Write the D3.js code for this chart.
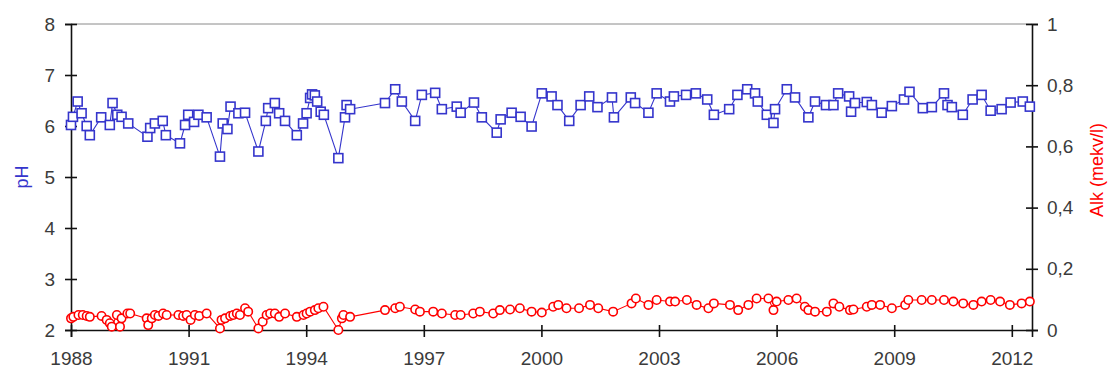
<!DOCTYPE html>
<html>
<head>
<meta charset="utf-8">
<script src="https://cdn.jsdelivr.net/npm/d3@7"></script>
<style>
  html, body { margin: 0; padding: 0; background: #fff; }
  svg { display: block; }
  text { font-family: "Liberation Sans", Arial, sans-serif; }
</style>
</head>
<body>
<svg id="chart" width="1109" height="372"></svg>
<script>
// Sampling dates (decimal years) and measured pH
const phDates = [
  1988.00, 1988.05, 1988.17, 1988.27, 1988.40, 1988.48, 1988.77, 1988.99, 1989.06, 1989.18,
  1989.29, 1989.46, 1989.95, 1990.02, 1990.14, 1990.34, 1990.42, 1990.78, 1990.91, 1990.99,
  1991.14, 1991.25, 1991.46, 1991.80, 1991.87, 1991.99, 1992.07, 1992.27, 1992.44, 1992.78,
  1992.97, 1993.03, 1993.20, 1993.31, 1993.46, 1993.76, 1993.92, 1994.01, 1994.10, 1994.15,
  1994.22, 1994.28, 1994.37, 1994.45, 1994.82, 1994.99, 1995.03, 1995.12, 1996.01, 1996.27,
  1996.44, 1996.78, 1996.95, 1997.29, 1997.46, 1997.84, 1997.94, 1998.28, 1998.48, 1998.86,
  1998.96, 1999.24, 1999.47, 1999.75, 2000.01, 2000.26, 2000.41, 2000.71, 2001.00, 2001.22,
  2001.43, 2001.80, 2001.85, 2002.28, 2002.39, 2002.73, 2002.94, 2003.28, 2003.38, 2003.69,
  2003.94, 2004.23, 2004.40, 2004.79, 2005.00, 2005.25, 2005.45, 2005.52, 2005.75, 2005.92,
  2005.96, 2006.26, 2006.47, 2006.81, 2006.98, 2007.26, 2007.45, 2007.57, 2007.85, 2007.90,
  2008.00, 2008.30, 2008.43, 2008.68, 2008.94, 2009.25, 2009.39, 2009.73, 2009.96, 2010.27,
  2010.36, 2010.47, 2010.75, 2011.00, 2011.23, 2011.46, 2011.74, 2011.97, 2012.28, 2012.46
];
const phValues = [
  6.02, 6.18, 6.48, 6.25, 6.00, 5.82, 6.17, 6.02, 6.45, 6.22,
  6.18, 6.05, 5.79, 5.96, 6.05, 6.10, 5.82, 5.66, 6.02, 6.22,
  6.08, 6.22, 6.17, 5.40, 6.05, 5.94, 6.38, 6.25, 6.26, 5.50,
  6.10, 6.35, 6.45, 6.25, 6.10, 5.82, 6.05, 6.25, 6.55, 6.62,
  6.60, 6.48, 6.28, 6.22, 5.37, 6.17, 6.41, 6.33, 6.45, 6.72,
  6.48, 6.10, 6.61, 6.65, 6.33, 6.38, 6.26, 6.46, 6.17, 5.87,
  6.13, 6.26, 6.18, 5.99, 6.64, 6.58, 6.41, 6.10, 6.41, 6.58,
  6.37, 6.56, 6.17, 6.56, 6.45, 6.26, 6.64, 6.48, 6.58, 6.61,
  6.64, 6.52, 6.22, 6.33, 6.61, 6.72, 6.64, 6.48, 6.22, 6.06,
  6.33, 6.72, 6.56, 6.17, 6.48, 6.41, 6.41, 6.64, 6.58, 6.28,
  6.45, 6.47, 6.41, 6.26, 6.39, 6.52, 6.67, 6.35, 6.37, 6.64,
  6.41, 6.37, 6.22, 6.52, 6.61, 6.30, 6.33, 6.46, 6.48, 6.38
];

// Sampling dates (decimal years) and alkalinity in mekv/l
const alkDates = [
  1988.00, 1988.06, 1988.19, 1988.30, 1988.40, 1988.48, 1988.78, 1988.91, 1988.99, 1989.04,
  1989.17, 1989.25, 1989.29, 1989.44, 1989.51, 1989.93, 1989.97, 1990.06, 1990.14, 1990.23,
  1990.35, 1990.44, 1990.74, 1990.86, 1990.95, 1991.05, 1991.16, 1991.27, 1991.46, 1991.80,
  1991.84, 1991.93, 1992.06, 1992.14, 1992.23, 1992.31, 1992.44, 1992.52, 1992.78, 1992.89,
  1992.99, 1993.08, 1993.20, 1993.31, 1993.46, 1993.76, 1993.93, 1994.01, 1994.10, 1994.22,
  1994.31, 1994.44, 1994.82, 1994.91, 1994.95, 1995.12, 1996.01, 1996.27, 1996.39, 1996.78,
  1996.90, 1997.24, 1997.46, 1997.80, 1997.94, 1998.26, 1998.43, 1998.77, 1998.94, 1999.20,
  1999.45, 1999.75, 2000.01, 2000.30, 2000.43, 2000.64, 2000.96, 2001.24, 2001.45, 2001.83,
  2002.30, 2002.41, 2002.73, 2002.94, 2003.28, 2003.41, 2003.71, 2003.96, 2004.26, 2004.40,
  2004.81, 2005.02, 2005.28, 2005.49, 2005.79, 2005.92, 2006.00, 2006.30, 2006.51, 2006.72,
  2006.81, 2006.98, 2007.28, 2007.45, 2007.60, 2007.87, 2007.96, 2008.30, 2008.43, 2008.64,
  2008.94, 2009.28, 2009.36, 2009.70, 2009.96, 2010.27, 2010.51, 2010.76, 2011.02, 2011.23,
  2011.46, 2011.70, 2011.95, 2012.25, 2012.46
];
const alkValues = [
  0.038, 0.043, 0.049, 0.049, 0.046, 0.043, 0.046, 0.033, 0.022, 0.011,
  0.049, 0.011, 0.038, 0.054, 0.054, 0.038, 0.016, 0.038, 0.049, 0.046,
  0.054, 0.049, 0.049, 0.046, 0.049, 0.033, 0.049, 0.046, 0.054, 0.005,
  0.033, 0.038, 0.046, 0.049, 0.054, 0.049, 0.071, 0.060, 0.005, 0.027,
  0.049, 0.054, 0.054, 0.043, 0.054, 0.043, 0.049, 0.054, 0.060, 0.065,
  0.071, 0.076, 0.000, 0.038, 0.049, 0.043, 0.065, 0.071, 0.076, 0.067,
  0.060, 0.060, 0.054, 0.049, 0.049, 0.054, 0.060, 0.054, 0.065, 0.067,
  0.071, 0.060, 0.057, 0.076, 0.082, 0.071, 0.071, 0.082, 0.071, 0.060,
  0.087, 0.103, 0.082, 0.098, 0.093, 0.093, 0.098, 0.082, 0.071, 0.087,
  0.082, 0.065, 0.082, 0.103, 0.103, 0.065, 0.093, 0.098, 0.103, 0.076,
  0.065, 0.060, 0.060, 0.087, 0.076, 0.065, 0.067, 0.076, 0.082, 0.082,
  0.071, 0.082, 0.098, 0.098, 0.098, 0.098, 0.093, 0.087, 0.082, 0.093,
  0.098, 0.093, 0.082, 0.087, 0.093
];

// Axis tick values
const yearTicks = [1988, 1991, 1994, 1997, 2000, 2003, 2006, 2009, 2012];
const phTicks = [2, 3, 4, 5, 6, 7, 8];
const alkTicks = [0, 0.2, 0.4, 0.6, 0.8, 1];

const BLUE = "#3535cc";
const RED = "#ff0000";
const TEXT = "#3b3b3b";
const FONT_SIZE = 19;

// Plot-area bounds
const plotLeft = 71, plotRight = 1032, plotTop = 24, plotBottom = 330;

const svg = d3.select("#chart");

const x = d3.scaleLinear().domain([1988, 2012.515]).range([plotLeft, plotRight]);
const yPH = d3.scaleLinear().domain([2, 8]).range([plotBottom, plotTop]);
const yAlk = d3.scaleLinear().domain([0, 1]).range([plotBottom, plotTop]);

const phData = phDates.map((t, i) => ({ t, v: phValues[i] }));
const alkData = alkDates.map((t, i) => ({ t, v: alkValues[i] }));

// Plot-area top border
svg.append("line")
  .attr("x1", plotLeft).attr("x2", plotRight)
  .attr("y1", plotTop).attr("y2", plotTop)
  .attr("stroke", "#8a8a8a").attr("stroke-width", 1);

// Shared axis styling
function styleAxis(g) {
  g.attr("font-family", null).attr("font-size", null);
  g.select(".domain").attr("stroke", "#111").attr("stroke-width", 1.6);
  g.selectAll(".tick line").attr("stroke", "#111").attr("stroke-width", 1.6);
  g.selectAll(".tick text")
    .attr("fill", TEXT)
    .style("font-size", FONT_SIZE + "px");
}

// Bottom (time) axis, ticks crossing the axis line
const xAxis = svg.append("g")
  .attr("transform", `translate(0,${plotBottom})`)
  .call(d3.axisBottom(x).tickValues(yearTicks).tickFormat(d3.format("d")).tickSizeOuter(0).tickSize(7));
xAxis.selectAll(".tick line").attr("y1", -5).attr("y2", 7);
xAxis.selectAll(".tick text").attr("y", 22).attr("dy", "0.71em");
styleAxis(xAxis);

// Left pH axis
const yLeft = svg.append("g")
  .attr("transform", `translate(${plotLeft},0)`)
  .call(d3.axisLeft(yPH).tickValues(phTicks).tickFormat(d3.format("d")).tickSizeOuter(0).tickSize(6).tickPadding(10));
yLeft.selectAll(".tick line").attr("x1", -6).attr("x2", 6);
styleAxis(yLeft);

// Right alkalinity axis, decimal comma
const alkFormat = d => (d === 0 || d === 1) ? String(d) : d.toFixed(1).replace(".", ",");
const yRight = svg.append("g")
  .attr("transform", `translate(${plotRight},0)`)
  .call(d3.axisRight(yAlk).tickValues(alkTicks).tickFormat(alkFormat).tickSizeOuter(0).tickSize(6).tickPadding(9));
yRight.selectAll(".tick line").attr("x1", -6).attr("x2", 6);
styleAxis(yRight);

// Axis titles
svg.append("text")
  .attr("transform", `translate(28,${(plotTop + plotBottom) / 2}) rotate(-90)`)
  .attr("text-anchor", "middle")
  .attr("fill", BLUE)
  .style("font-size", "18px")
  .text("pH");

svg.append("text")
  .attr("transform", `translate(1103,170) rotate(-90)`)
  .attr("text-anchor", "middle")
  .attr("fill", RED)
  .style("font-size", "18px")
  .text("Alk (mekv/l)");

// pH series
const phLine = d3.line().x(d => x(d.t)).y(d => yPH(d.v));
svg.append("path")
  .datum(phData)
  .attr("d", phLine)
  .attr("fill", "none")
  .attr("stroke", BLUE)
  .attr("stroke-width", 1.1);

const sq = 9;
svg.append("g").selectAll("rect")
  .data(phData)
  .join("rect")
  .attr("x", d => x(d.t) - sq / 2)
  .attr("y", d => yPH(d.v) - sq / 2)
  .attr("width", sq).attr("height", sq)
  .attr("fill", "#fff")
  .attr("stroke", BLUE)
  .attr("stroke-width", 1.6);

// Alkalinity series
const alkLine = d3.line().x(d => x(d.t)).y(d => yAlk(d.v));
svg.append("path")
  .datum(alkData)
  .attr("d", alkLine)
  .attr("fill", "none")
  .attr("stroke", RED)
  .attr("stroke-width", 1.1);

svg.append("g").selectAll("circle")
  .data(alkData)
  .join("circle")
  .attr("cx", d => x(d.t))
  .attr("cy", d => yAlk(d.v))
  .attr("r", 4.2)
  .attr("fill", "#fff")
  .attr("stroke", RED)
  .attr("stroke-width", 1.6);
</script>
</body>
</html>
